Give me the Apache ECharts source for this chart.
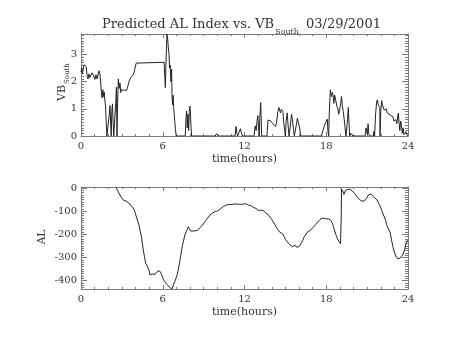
<!DOCTYPE html>
<html>
<head>
<meta charset="utf-8">
<title>Predicted AL Index vs. VB South 03/29/2001</title>
<script src="https://cdn.jsdelivr.net/npm/echarts@6/dist/echarts.min.js"></script>
<style>
  html, body { margin: 0; padding: 0; background: #fff; }
  #chart { width: 454px; height: 341px; }
</style>
</head>
<body>
<div id="chart"></div>
<script>
// Southward solar-wind driver (VB_South) by hour of day
var vbTime = [0.00,0.05,0.10,0.15,0.22,0.30,0.38,0.45,0.52,0.58,0.65,0.72,0.80,0.88,0.95,1.02,1.10,1.18,1.25,1.32,1.38,1.45,1.50,1.55,1.60,1.65,1.70,1.75,1.80,1.85,1.90,2.02,2.08,2.13,2.18,2.22,2.26,2.31,2.36,2.40,2.50,2.55,2.60,2.64,2.68,2.74,2.80,2.86,2.92,2.97,3.05,3.20,3.35,3.45,3.55,3.65,3.75,3.85,3.95,4.05,4.10,6.10,6.15,6.19,6.24,6.31,6.36,6.41,6.46,6.50,6.55,6.60,6.65,6.68,6.72,6.76,6.80,6.85,6.88,6.93,6.99,7.65,7.70,7.75,7.80,7.85,7.90,7.95,8.00,8.04,8.08,8.12,9.85,9.95,10.00,10.08,10.15,11.30,11.38,11.44,11.50,11.62,11.70,11.78,11.85,12.70,12.78,12.86,12.92,12.98,13.03,13.08,13.12,13.19,13.26,13.65,13.72,13.80,13.90,14.00,14.08,14.15,14.22,14.28,14.35,14.45,14.52,14.58,14.64,14.70,14.76,14.82,14.88,14.95,15.00,15.05,15.13,15.20,15.27,15.35,15.45,15.52,15.60,15.66,15.75,15.80,15.88,15.95,16.05,16.12,17.65,17.75,17.85,17.95,18.08,18.12,18.18,18.22,18.30,18.38,18.44,18.50,18.56,18.62,18.70,18.78,18.85,18.92,19.00,19.06,19.12,19.18,19.25,19.32,19.38,19.45,19.50,19.56,19.62,19.68,19.72,19.80,19.85,19.90,19.95,20.85,20.92,20.97,21.02,21.07,21.12,21.16,21.45,21.50,21.55,21.62,21.70,21.75,21.82,21.88,21.93,21.95,22.00,22.07,22.12,22.18,22.25,22.32,22.40,22.48,22.55,22.62,22.68,22.75,22.82,22.90,22.97,23.05,23.12,23.18,23.24,23.29,23.35,23.40,23.46,23.52,23.58,23.64,23.70,23.76,23.85,23.92,24.00];
var vbValue = [2.35,2.50,2.30,2.45,2.62,2.67,2.55,2.20,2.10,2.28,2.15,2.12,2.32,2.38,2.20,2.08,2.25,2.10,2.05,2.40,2.30,1.95,1.55,1.40,1.70,1.45,1.62,1.30,1.10,0.50,0,0,0.80,1.12,0.40,0,0.90,1.18,0.50,0,0,1.20,1.80,0,1.00,2.10,1.75,1.95,1.60,1.70,1.65,1.68,1.68,1.85,2.05,2.15,2.10,2.25,2.30,2.68,2.71,2.71,2.20,1.78,2.80,3.74,3.60,3.24,3.00,2.50,2.60,2.00,2.45,1.50,1.15,1.50,1.04,0.75,0.56,0.25,0,0,0.60,0.92,0.30,0.80,0.20,0.90,1.10,0.70,0.30,0,0,0.08,0.02,0.08,0,0,0.35,0.10,0,0,0.27,0.10,0,0,0.37,0.20,0.55,0.75,0.30,0,0.60,1.23,0,0,0.58,0.58,0.57,0.50,0.45,0.38,0.50,0.35,0.50,0.90,1.05,1.00,0.85,0.98,1.00,0.90,0.50,0.20,0,0.50,0.85,0.40,0,0.30,0.80,0.60,0.20,0,0,0.40,0.65,0.70,0.30,0,0,0.20,0.35,0.48,0.62,0.20,0,0.80,1.70,1.45,1.60,1.50,1.20,1.50,1.30,1.10,1.00,0.80,0.75,1.20,1.45,1.10,0.90,0.60,0.30,0,0,0.60,1.05,0.40,0,0.10,0.15,0.05,0,0,0.30,0.37,0.05,0.45,0.10,0,0,0.17,0,0.80,1.25,1.33,1.15,1.20,1.05,0,0.90,1.30,1.15,1.08,0.95,1.02,1.00,0.85,0.90,0.80,0.78,0.85,0.80,0.70,0.55,0.48,0.60,0.45,0.70,0.84,0.45,0.20,0.55,0.40,0.10,0.30,0.05,0,0.15,0.05,0];

// Predicted AL index (nT) by hour of day
var alTime = [2.58,2.62,2.70,2.78,2.86,2.95,3.03,3.12,3.23,3.32,3.40,3.47,3.55,3.62,3.70,3.78,3.84,3.92,3.98,4.05,4.13,4.20,4.28,4.36,4.45,4.51,4.57,4.65,4.75,4.82,4.88,4.94,4.99,5.06,5.12,5.18,5.24,5.32,5.43,5.50,5.58,5.68,5.75,5.80,5.88,5.95,5.99,6.05,6.09,6.16,6.24,6.30,6.36,6.42,6.48,6.55,6.62,6.67,6.72,6.78,6.84,6.90,6.96,7.02,7.08,7.14,7.20,7.27,7.33,7.39,7.45,7.51,7.57,7.63,7.70,7.76,7.82,7.88,7.94,8.00,8.06,8.12,8.18,8.24,8.32,8.40,8.49,8.55,8.62,8.68,8.73,8.80,8.86,8.92,8.98,9.05,9.10,9.16,9.22,9.30,9.38,9.47,9.55,9.63,9.71,9.80,9.88,9.96,10.05,10.12,10.20,10.28,10.36,10.45,10.55,10.62,10.69,10.78,10.86,10.94,11.02,11.10,11.18,11.26,11.34,11.42,11.50,11.58,11.67,11.75,11.83,11.91,12.00,12.08,12.16,12.22,12.28,12.34,12.40,12.46,12.52,12.58,12.65,12.72,12.78,12.84,12.89,12.95,13.01,13.07,13.13,13.20,13.26,13.32,13.38,13.44,13.50,13.56,13.62,13.68,13.75,13.81,13.87,13.93,13.99,14.05,14.12,14.18,14.24,14.30,14.36,14.42,14.48,14.54,14.60,14.66,14.73,14.79,14.85,14.91,14.97,15.03,15.09,15.16,15.22,15.28,15.34,15.40,15.46,15.52,15.58,15.64,15.71,15.77,15.83,15.90,15.96,16.02,16.08,16.15,16.21,16.27,16.33,16.39,16.45,16.51,16.58,16.64,16.72,16.81,16.88,16.95,17.05,17.12,17.20,17.30,17.38,17.46,17.54,17.62,17.70,17.79,17.86,17.94,18.03,18.10,18.18,18.28,18.35,18.42,18.48,18.52,18.58,18.64,18.70,18.76,18.82,18.88,18.94,19.00,19.05,19.08,19.10,19.12,19.16,19.20,19.25,19.30,19.35,19.40,19.46,19.52,19.58,19.64,19.70,19.76,19.82,19.88,19.94,20.00,20.04,20.10,20.16,20.22,20.28,20.36,20.44,20.53,20.62,20.72,20.80,20.88,20.97,21.04,21.10,21.16,21.21,21.28,21.34,21.40,21.46,21.52,21.58,21.64,21.70,21.76,21.83,21.90,21.95,22.02,22.08,22.14,22.19,22.25,22.31,22.37,22.43,22.50,22.56,22.62,22.68,22.73,22.79,22.85,22.91,22.97,23.05,23.11,23.17,23.23,23.29,23.35,23.41,23.47,23.53,23.60,23.66,23.72,23.78,23.82,23.87,23.93,23.97];
var alValue = [2,-3,-12,-22,-30,-40,-48,-53,-58,-57,-62,-63,-70,-74,-76,-82,-88,-98,-109,-122,-137,-150,-166,-190,-217,-243,-267,-295,-325,-333,-340,-348,-354,-375,-372,-370,-372,-370,-373,-366,-362,-359,-357,-358,-368,-378,-385,-395,-400,-405,-410,-416,-420,-422,-428,-430,-434,-436,-428,-418,-410,-402,-392,-382,-368,-352,-333,-310,-288,-267,-248,-232,-216,-202,-192,-185,-176,-167,-176,-182,-186,-185,-183,-186,-188,-185,-188,-183,-180,-178,-172,-165,-166,-160,-155,-150,-145,-140,-136,-130,-124,-116,-112,-109,-106,-103,-104,-101,-98,-96,-93,-88,-84,-80,-77,-75,-74,-72,-73,-71,-70,-72,-68,-69,-71,-70,-68,-70,-68,-71,-69,-70,-67,-68,-65,-72,-74,-78,-80,-76,-79,-83,-84,-90,-91,-88,-87,-94,-97,-93,-92,-96,-97,-94,-98,-104,-106,-108,-110,-114,-116,-122,-126,-131,-135,-140,-147,-152,-159,-167,-173,-178,-182,-188,-192,-186,-189,-197,-203,-210,-217,-224,-231,-234,-236,-242,-246,-245,-250,-254,-257,-252,-247,-250,-256,-264,-258,-252,-248,-244,-235,-226,-218,-210,-205,-200,-194,-189,-186,-183,-182,-178,-170,-164,-159,-152,-147,-142,-137,-133,-130,-129,-132,-131,-133,-135,-134,-137,-141,-147,-157,-166,-178,-190,-200,-210,-220,-226,-230,-236,-241,-243,-120,-4,-2,-10,-18,-28,-20,-12,-9,-8,-6,-7,-9,-6,-5,-9,-14,-18,-22,-25,-27,-33,-40,-44,-50,-55,-57,-58,-56,-53,-44,-36,-30,-26,-24,-27,-30,-34,-37,-40,-44,-47,-51,-56,-62,-72,-80,-88,-98,-108,-116,-124,-132,-142,-159,-168,-177,-184,-190,-205,-225,-240,-258,-272,-285,-294,-299,-305,-306,-307,-303,-300,-296,-290,-282,-272,-260,-246,-236,-230,-225];

var hourTicks = [0, 6, 12, 18, 24];

function zip(a, b) {
  var out = [];
  for (var i = 0; i < a.length; i++) out.push([a[i], b[i]]);
  return out;
}

var FONT = 'DejaVu Serif';
var FRAME = '#7a7a7a';
var INK = '#333';
var LINE = '#222';

// Width of a string in a given canvas font, used to butt subscripts against their base text
var measureCtx = document.createElement('canvas').getContext('2d');
function textWidth(str, font) {
  measureCtx.font = font;
  return measureCtx.measureText(str).width;
}

function xAxes(gridIndex) {
  var base = {
    gridIndex: gridIndex, type: 'value', min: hourTicks[0], max: hourTicks[hourTicks.length - 1],
    interval: hourTicks[1] - hourTicks[0],
    axisLine: { show: true, onZero: false, lineStyle: { color: FRAME, width: 1 } },
    axisTick: { show: true, inside: true, length: 4, lineStyle: { color: FRAME } },
    minorTick: { show: true, splitNumber: 6, length: 2, lineStyle: { color: FRAME } },
    splitLine: { show: false }
  };
  var bottom = Object.assign({}, base, {
    position: 'bottom',
    name: 'time(hours)', nameLocation: 'middle', nameGap: 18,
    nameTextStyle: { fontFamily: FONT, fontSize: 11, color: INK },
    axisLabel: { show: true, margin: 5, fontFamily: FONT, fontSize: 10, color: INK }
  });
  var top = Object.assign({}, base, { position: 'top', axisLabel: { show: false } });
  return [bottom, top];
}

function yAxes(gridIndex, range, majorOpts, minorOpts, labelFmt) {
  var common = {
    gridIndex: gridIndex, type: 'value', min: range[0], max: range[1],
    splitLine: { show: false }
  };
  var leftMajor = Object.assign({}, common, majorOpts, {
    position: 'left',
    axisLine: { show: true, onZero: false, lineStyle: { color: FRAME, width: 1 } },
    axisTick: { show: true, inside: true, length: 6, lineStyle: { color: FRAME } },
    axisLabel: { show: true, margin: 4, fontFamily: FONT, fontSize: 10, color: INK,
                 showMinLabel: true, showMaxLabel: false, formatter: labelFmt }
  });
  var rightMajor = Object.assign({}, common, majorOpts, {
    position: 'right',
    axisLine: { show: true, onZero: false, lineStyle: { color: FRAME, width: 1 } },
    axisTick: { show: true, inside: true, length: 6, lineStyle: { color: FRAME } },
    axisLabel: { show: false }
  });
  var leftMinor = Object.assign({}, common, minorOpts, {
    position: 'left',
    axisLine: { show: false, onZero: false },
    axisTick: { show: true, inside: true, length: 3, lineStyle: { color: FRAME } },
    axisLabel: { show: false }
  });
  var rightMinor = Object.assign({}, common, minorOpts, {
    position: 'right',
    axisLine: { show: false, onZero: false },
    axisTick: { show: true, inside: true, length: 3, lineStyle: { color: FRAME } },
    axisLabel: { show: false }
  });
  return [leftMajor, rightMajor, leftMinor, rightMinor];
}

var titleFont = '13px "' + FONT + '"';
var subFont = '8px "' + FONT + '"';
var titleX = 102;
var titleMain = 'Predicted AL Index vs. VB';
var subX = titleX + textWidth(titleMain, titleFont) + 1;

var chart = echarts.init(document.getElementById('chart'), null, { renderer: 'canvas' });

var option = {
  backgroundColor: '#fff',
  animation: false,
  grid: [
    { left: 81, top: 34, width: 327, height: 102 },
    { left: 81, top: 187, width: 327, height: 102 }
  ],
  xAxis: xAxes(0).concat(xAxes(1)),
  yAxis: yAxes(0, [0, 3.75], { interval: 1 }, { interval: 0.1 },
               function (v) { return Math.abs(v - Math.round(v)) < 1e-6 ? String(Math.round(v)) : ''; })
    .concat(yAxes(1, [-436, 4], { splitNumber: 5 }, { splitNumber: 44 },
               function (v) { return v % 100 === 0 ? String(v) : ''; })),
  series: [
    {
      type: 'line', xAxisIndex: 0, yAxisIndex: 0,
      data: zip(vbTime, vbValue),
      showSymbol: false, symbol: 'none', clip: true,
      lineStyle: { color: LINE, width: 1 }
    },
    {
      type: 'line', xAxisIndex: 2, yAxisIndex: 4,
      data: zip(alTime, alValue),
      showSymbol: false, symbol: 'none', clip: true,
      lineStyle: { color: LINE, width: 1 }
    }
  ],
  graphic: [
    { type: 'text', x: titleX, y: 25, style: { text: titleMain, font: titleFont, fill: INK, textAlign: 'left', textVerticalAlign: 'middle' } },
    { type: 'text', x: subX, y: 32, style: { text: 'South', font: subFont, fill: INK, textAlign: 'left', textVerticalAlign: 'middle' } },
    { type: 'text', x: 306, y: 25, style: { text: '03/29/2001', font: titleFont, fill: INK, textAlign: 'left', textVerticalAlign: 'middle' } },
    { type: 'text', x: 62, y: 101, rotation: Math.PI / 2, style: { text: 'VB', font: '11px "' + FONT + '"', fill: INK, textAlign: 'left', textVerticalAlign: 'middle' } },
    { type: 'text', x: 67, y: 84, rotation: Math.PI / 2, style: { text: 'South', font: '7px "' + FONT + '"', fill: INK, textAlign: 'left', textVerticalAlign: 'middle' } },
    { type: 'text', x: 42, y: 237, rotation: Math.PI / 2, style: { text: 'AL', font: '11px "' + FONT + '"', fill: INK, textAlign: 'center', textVerticalAlign: 'middle' } }
  ]
};

chart.setOption(option);
</script>
</body>
</html>
